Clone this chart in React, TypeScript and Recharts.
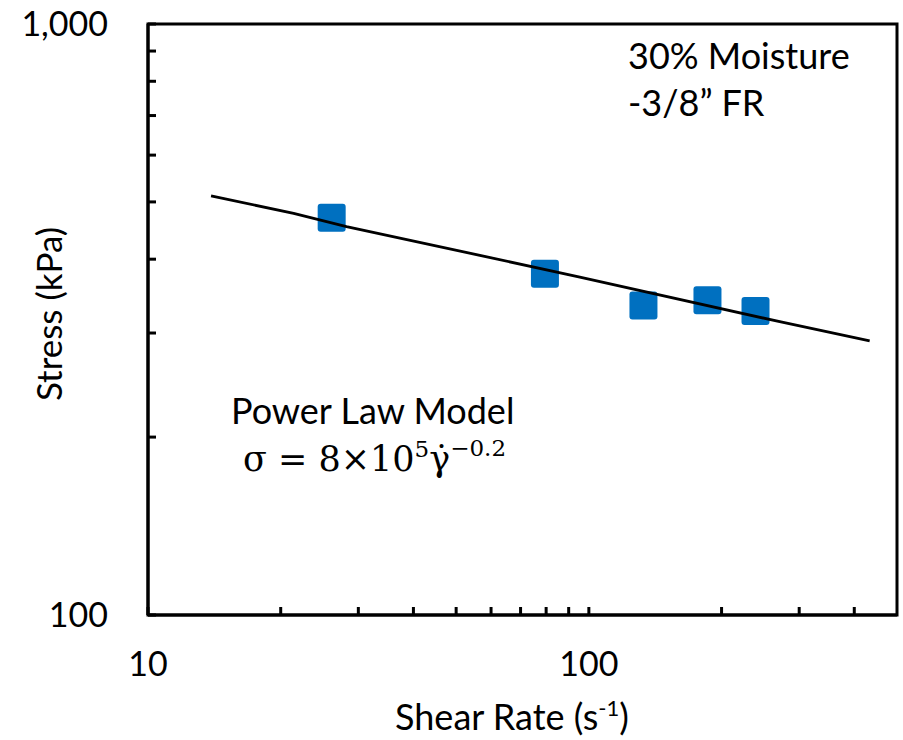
import { ScatterChart, Scatter, XAxis, YAxis, ReferenceArea } from "recharts";

// measured points (shear rate s^-1, stress kPa)
const shearRate = [26.1, 79.5, 133, 185.8, 238.8];
const stress = [470, 378, 334, 341, 327];

// power law fit curve
const fitRate = [13.9, 21.4, 28.2, 56.6, 95.4, 271, 433.5];
const fitStress = [512, 478, 454, 406, 373, 313.5, 291];

const xTicks = [10, 20, 30, 40, 50, 60, 70, 80, 90, 100, 200, 300, 400];
const yTicks = [100, 200, 300, 400, 500, 600, 700, 800, 900, 1000];
const xLabels = [10, 100];
const yLabels = [100, 1000];

const points = shearRate.map((x, i) => ({ x, y: stress[i] }));
const fit = fitRate.map((x, i) => ({ x, y: fitStress[i] }));

const FONT = "Lato, 'Open Sans', sans-serif";
const BLUE = "#0070C0";

const Square = (props: any) => {
  const { cx, cy } = props;
  return <rect x={cx - 14} y={cy - 14} width={28} height={28} rx={3} fill={BLUE} />;
};

export default function App() {
  return (
    <div style={{ position: "absolute", left: 0, top: 0, width: 903, height: 740, background: "#fff" }}>
      <ScatterChart width={903} height={740} margin={{ top: 24, right: 6, bottom: 0, left: 0 }}>
        <XAxis
          dataKey="x"
          type="number"
          scale="log"
          domain={[10, 500]}
          allowDataOverflow
          ticks={xTicks}
          interval={0}
          height={125}
          tickSize={-8}
          tickMargin={45}
          tickFormatter={(v: number) => (xLabels.includes(v) ? String(v) : "")}
          tick={{ fill: "#000", fontSize: 34, fontFamily: FONT }}
          axisLine={{ stroke: "#000", strokeWidth: 3 }}
          tickLine={{ stroke: "#000", strokeWidth: 3 }}
        />
        <YAxis
          dataKey="y"
          type="number"
          scale="log"
          domain={[100, 1000]}
          allowDataOverflow
          ticks={yTicks}
          interval={0}
          width={148}
          tickSize={-8}
          tickMargin={48}
          tickFormatter={(v: number) => (yLabels.includes(v) ? v.toLocaleString("en-US") : "")}
          tick={{ fill: "#000", fontSize: 34, fontFamily: FONT }}
          axisLine={{ stroke: "#000", strokeWidth: 3 }}
          tickLine={{ stroke: "#000", strokeWidth: 3 }}
        />
        <ReferenceArea x1={10} x2={500} y1={100} y2={1000} fill="none" stroke="#000" strokeWidth={3} />
        <Scatter data={points} shape={Square} isAnimationActive={false} />
        <Scatter
          data={fit}
          line={{ stroke: "#000", strokeWidth: 2.8 }}
          lineType="joint"
          shape={() => <g />}
          isAnimationActive={false}
        />
      </ScatterChart>
      <svg width={903} height={740} style={{ position: "absolute", left: 0, top: 0, pointerEvents: "none" }}>
        <g fontFamily={FONT} fill="#000">
          <text x={628} y={69} fontSize={36}>30% Moisture</text>
          <text x={628} y={116} fontSize={36}>-3/8” FR</text>
          <text x={231} y={424} fontSize={36}>Power Law Model</text>
          <text x={512} y={730} fontSize={36} textAnchor="middle">
            Shear Rate (s<tspan dy={-14} fontSize={22}>-1</tspan><tspan dy={14}>)</tspan>
          </text>
          <text x={62} y={314} fontSize={35} textAnchor="middle" transform="rotate(-90 62 314)">Stress (kPa)</text>
        </g>
        <text x={243} y={471} fontSize={35} fontFamily="'DejaVu Serif', serif" fill="#000">
          σ = 8×10<tspan dy={-14} fontSize={23}>5</tspan>
          <tspan dy={14}>γ̇</tspan>
          <tspan dy={-15} fontSize={23}>−0.2</tspan>
        </text>
      </svg>
    </div>
  );
}
